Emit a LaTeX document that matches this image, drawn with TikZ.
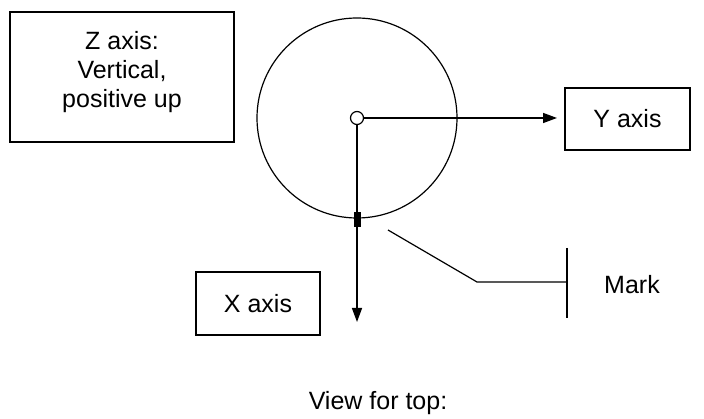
\documentclass[tikz,border=0pt]{standalone}
\usepackage{fontspec}
\setmainfont{Liberation Sans}
\usetikzlibrary{arrows.meta}
\begin{document}
\begin{tikzpicture}[x=1pt,y=-1pt,line width=1.5pt,
  lbl/.style={font=\fontsize{25}{29}\selectfont,align=center},
  arr/.style={-{Triangle[length=14pt,width=10pt]}}]
\useasboundingbox (0,0) rectangle (704,419);
\draw[line width=1.2pt] (10,12) rectangle (234,142);
\node[lbl] (z) at (122,72) {Z axis:\\Vertical,\\positive up};
\draw[line width=1.2pt] (357,118) circle (100);
\node[draw,circle,fill=white,minimum size=13pt,inner sep=0,line width=1.2pt] (c) at (357,118) {};
\node[draw,line width=1.2pt,minimum width=125pt,minimum height=62pt] (y) at (627.5,119) {};
\node[lbl] at (y) {Y axis};
\node[draw,line width=1.2pt,minimum width=124pt,minimum height=63pt] (x) at (258,303.5) {};
\node[lbl] at (x) {X axis};
\coordinate (yt) at (557,118);
\coordinate (xt) at (357,322);
\draw[arr] (c.east) -- (yt);
\draw[arr] (c.south) -- (xt);
\fill (353.5,212) rectangle (360.5,227);
\coordinate (m1) at (388,230);
\coordinate (m2) at (477,282);
\coordinate (m3) at (567,282);
\draw[line width=1.2pt] (m1) -- (m2) -- (m3);
\draw[line width=1.2pt] (567,248) -- (567,318);
\node[lbl] (mark) at (632,285) {Mark};
\node[lbl] (v) at (378,403) {View for top:};
\end{tikzpicture}
\end{document}
